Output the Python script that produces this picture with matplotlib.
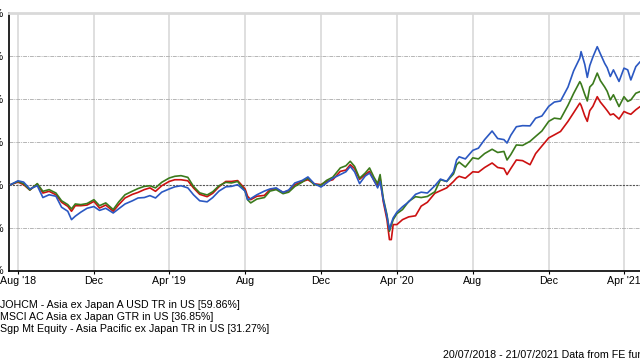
import numpy as np
import matplotlib
matplotlib.use("Agg")
import matplotlib.pyplot as plt
import matplotlib.dates as mdates

plt.rcParams['font.family'] = ['Liberation Sans', 'DejaVu Sans']

# dates of readings
dates = [
    "2018-07-20", "2018-08-01", "2018-08-10", "2018-08-20", "2018-09-01", "2018-09-10",
    "2018-09-20", "2018-10-01", "2018-10-10", "2018-10-20", "2018-10-26", "2018-11-01",
    "2018-11-10", "2018-11-20", "2018-12-01", "2018-12-10", "2018-12-20", "2019-01-01",
    "2019-01-10", "2019-01-20", "2019-02-01", "2019-02-10", "2019-02-20", "2019-03-01",
    "2019-03-10", "2019-03-20", "2019-04-01", "2019-04-10", "2019-04-20", "2019-05-01",
    "2019-05-10", "2019-05-20", "2019-06-01", "2019-06-10", "2019-06-20", "2019-07-01",
    "2019-07-10", "2019-07-20", "2019-08-01", "2019-08-05", "2019-08-10", "2019-08-20",
    "2019-09-01", "2019-09-10", "2019-09-20", "2019-10-01", "2019-10-10", "2019-10-20",
    "2019-11-01", "2019-11-10", "2019-11-20", "2019-12-01", "2019-12-10", "2019-12-20",
    "2020-01-01", "2020-01-10", "2020-01-17", "2020-01-24", "2020-02-01", "2020-02-10",
    "2020-02-17", "2020-02-24", "2020-03-01", "2020-03-05", "2020-03-10", "2020-03-16",
    "2020-03-20", "2020-03-23", "2020-03-26", "2020-04-01", "2020-04-10", "2020-04-20",
    "2020-05-01", "2020-05-10", "2020-05-20", "2020-06-01", "2020-06-10", "2020-06-20",
    "2020-07-01", "2020-07-06", "2020-07-10", "2020-07-20", "2020-08-01", "2020-08-10",
    "2020-08-20", "2020-09-01", "2020-09-10", "2020-09-20", "2020-09-25", "2020-10-01",
    "2020-10-10", "2020-10-20", "2020-11-01", "2020-11-10", "2020-11-20", "2020-12-01",
    "2020-12-10", "2020-12-20", "2021-01-01", "2021-01-10", "2021-01-20", "2021-01-22",
    "2021-01-28", "2021-02-01", "2021-02-05", "2021-02-10", "2021-02-17", "2021-02-22",
    "2021-03-01", "2021-03-05", "2021-03-10", "2021-03-15", "2021-03-24", "2021-04-01",
    "2021-04-07", "2021-04-12", "2021-04-20", "2021-04-27", "2021-07-21",
]

# cumulative performance, %
johcm = [
    0.0, 1.8, 1.2, -2.0, -0.5, -6.0,
    -4.7, -5.4, -10.5, -12.4, -16.3, -14.7,
    -12.8, -11.0, -10.2, -12.0, -11.0, -13.2,
    -11.2, -9.0, -7.5, -6.2, -6.0, -5.1,
    -6.2, -3.5, -2.0, -1.0, -0.5, -1.5,
    -4.7, -7.5, -8.0, -6.0, -3.0, -1.0,
    -0.8, 0.0, -3.0, -7.0, -6.5, -4.7,
    -3.0, -2.0, -1.5, -3.6, -2.5, 0.8,
    2.0, 3.6, 0.5, -1.1, 0.8, 3.0,
    4.7, 6.0, 8.5, 6.0, 0.5, 4.0,
    5.4, 2.0, -1.5, 1.5, -7.0, -14.7,
    -20.9, -18.0, -15.5, -12.8, -10.3, -8.0,
    -4.5, -3.5, -3.9, -0.5, 2.6, 1.5,
    6.0, 11.6, 13.0, 12.0, 16.0, 17.0,
    21.0, 25.0, 21.5, 21.0, 19.4, 23.0,
    27.0, 27.5, 27.4, 31.0, 32.0, 36.5,
    38.5, 39.0, 45.5, 53.0, 59.0, 62.0,
    56.0, 50.0, 55.5, 59.5, 64.3, 61.0,
    56.5, 54.5, 50.4, 53.5, 48.1, 54.3,
    53.5, 48.8, 55.0, 57.3, 59.86,
]

msci = [
    0.0, 1.5, 0.5, -2.5, 0.5, -3.1,
    -2.3, -3.9, -7.5, -9.3, -11.3, -9.0,
    -9.3, -8.8, -7.0, -9.8, -8.5, -11.6,
    -8.0, -4.7, -3.0, -1.8, -0.8, -0.5,
    -1.5, 1.1, 3.1, 3.9, 4.2, 3.4,
    -0.8, -3.8, -4.8, -3.3, -0.5, 1.1,
    0.8, 1.5, -3.0, -7.0, -8.5, -6.7,
    -6.0, -3.0, -2.3, -4.2, -3.5, -0.8,
    1.2, 3.1, 0.0, -0.2, 2.0, 3.5,
    7.8, 8.8, 10.9, 8.5, 3.0, 5.4,
    7.8, 3.5, 0.5, 4.7, -6.2, -14.0,
    -21.7, -19.0, -16.3, -13.5, -11.6, -7.8,
    -5.6, -6.0, -5.5, -3.3, 2.3, 1.5,
    5.0, 9.3, 10.5, 8.2, 12.5, 12.0,
    14.5, 16.5, 15.0, 15.5, 11.5, 14.0,
    18.5, 18.3, 20.2, 22.5, 25.0, 29.5,
    31.0, 30.6, 37.0, 42.5, 48.0, 47.0,
    42.0, 39.0, 45.5, 47.0, 52.0, 48.5,
    45.5, 43.5, 39.5, 41.9, 36.4, 41.0,
    38.8, 39.5, 42.6, 43.4, 36.85,
]

sector = [
    0.0, 1.2, 0.0, -2.5, 0.3, -3.9,
    -3.1, -4.7, -8.2, -10.1, -12.4, -9.8,
    -9.8, -9.5, -7.8, -10.9, -9.5, -12.4,
    -9.3, -6.2, -4.5, -3.6, -2.3, -1.5,
    -3.1, -0.5, 1.5, 2.3, 2.3, 1.8,
    -1.5, -4.5, -5.6, -4.0, -1.0, 1.5,
    1.5, 1.9, -2.0, -5.4, -7.0, -5.4,
    -5.0, -2.3, -1.9, -3.6, -2.8, 0.0,
    1.5, 2.3, 0.4, 0.0, 1.5, 2.3,
    6.2, 6.8, 9.3, 7.5, 2.5, 4.7,
    6.2, 2.0, -0.5, 3.1, -7.8, -16.3,
    -25.6, -25.6, -18.6, -18.6, -16.3, -15.0,
    -14.5, -10.0, -8.2, -4.0, -2.8, -1.5,
    1.5, 3.1, 3.9, 3.0, 6.0, 5.8,
    8.0, 10.1, 8.0, 7.5, 4.7, 7.5,
    11.5, 11.2, 9.3, 14.5, 18.0, 21.8,
    23.2, 24.8, 29.5, 33.5, 38.0, 37.0,
    32.0, 29.5, 34.5, 36.5, 41.0, 38.5,
    36.0, 34.5, 32.5, 33.0, 30.6, 34.1,
    33.3, 32.8, 34.9, 36.4, 31.27,
]

legend_labels = [
    "JOHCM - Asia ex Japan A USD TR in US [59.86%]",
    "MSCI AC Asia ex Japan GTR in US [36.85%]",
    "Sgp Mt Equity - Asia Pacific ex Japan TR in US [31.27%]",
]
tick_dates = ["2018-08-01", "2018-12-01", "2019-04-01", "2019-08-01", "2019-12-01",
              "2020-04-01", "2020-08-01", "2020-12-01", "2021-04-01"]
tick_labels = ["Aug '18", "Dec", "Apr '19", "Aug", "Dec", "Apr '20", "Aug", "Dec", "Apr '21"]
y_ticks = [-40, -20, 0, 20, 40, 60, 80]

x = np.array(dates, dtype="datetime64[D]")

fig = plt.figure(figsize=(6.4, 3.6), dpi=100)
ax = fig.add_axes([9.3 / 640, 1 - 270.5 / 360, 685 / 640, 257.5 / 360])

ax.plot(x, sector, color="#cc1111", lw=1.2, zorder=3)
ax.plot(x, msci, color="#3b7a1c", lw=1.2, zorder=4)
ax.plot(x, johcm, color="#2b58c2", lw=1.2, zorder=5)

ax.set_xlim(np.datetime64("2018-07-18"), np.datetime64("2021-07-23"))
ax.set_ylim(-40, 80)

xt = np.array(tick_dates, dtype="datetime64[D]")
ax.set_xticks(xt)
ax.set_xticklabels(tick_labels)
ax.set_yticks(y_ticks)
ax.set_yticklabels(["{}%".format(v) for v in y_ticks])
ax.tick_params(axis="x", length=2.5, width=0.8, pad=1.5, labelsize=7.7)
ax.tick_params(axis="y", length=0, pad=3.8, labelsize=7.7)

for t in xt:
    ax.axvline(t, color="#dcdcdc", lw=1.3, zorder=1)
for v in [-20, 20, 40, 60]:
    ax.axhline(v, color="#b5b5b5", lw=0.7, ls=(0, (4, 1, 1, 1)), zorder=1)
ax.axhline(0, color="#555555", lw=0.8, ls=(0, (2, 1)), zorder=2)

ax.spines["left"].set_color("black")
ax.spines["left"].set_linewidth(1.2)
ax.spines["bottom"].set_color("black")
ax.spines["bottom"].set_linewidth(1.2)
ax.spines["top"].set_color("#d9d9d9")
ax.spines["top"].set_linewidth(2)
ax.spines["right"].set_visible(False)

for i, lab in enumerate(legend_labels):
    fig.text(0.0, 1 - (308 + 12 * i) / 360, lab, fontsize=7.7, ha="left", va="baseline")

fig.text(443 / 640, 1 - 357.5 / 360, "20/07/2018 - 21/07/2021 Data from FE fundinfo2021",
         fontsize=7.7, ha="left", va="baseline")

fig.savefig("out.png", dpi=100)
